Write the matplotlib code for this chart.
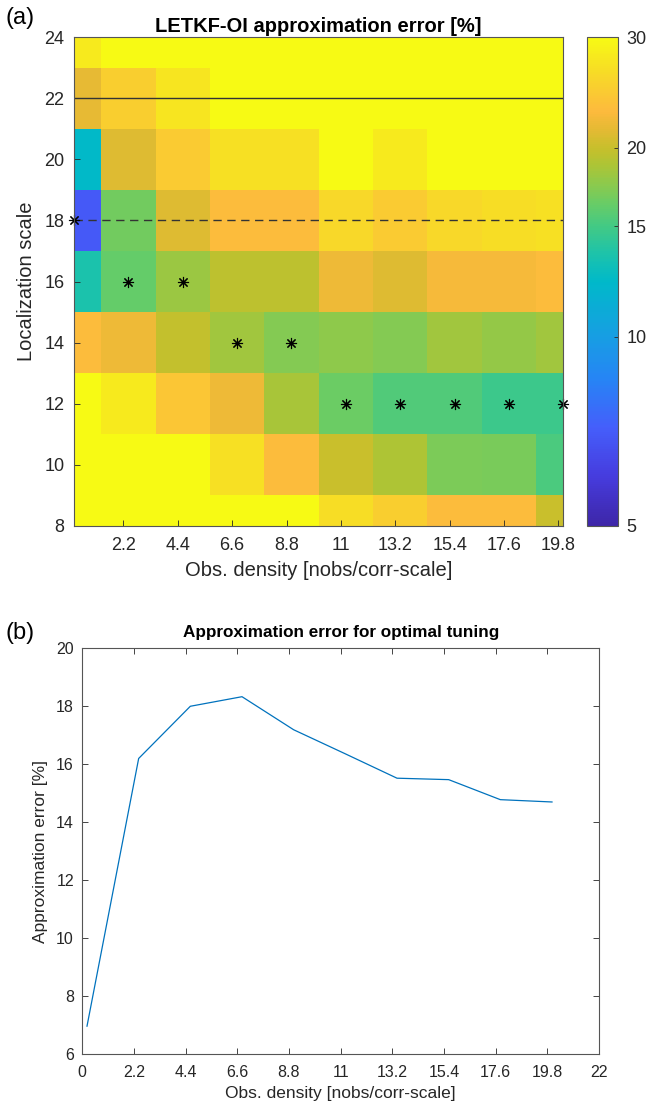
import numpy as np
import matplotlib.pyplot as plt
from matplotlib.colors import LinearSegmentedColormap, LogNorm

plt.rcParams['font.family'] = ['Liberation Sans', 'DejaVu Sans']

# observation density (column centres) and localization scales (row centres)
density = [0.2, 2.4, 4.6, 6.8, 9.0, 11.2, 13.4, 15.6, 17.8, 20.0]
scales = [8, 10, 12, 14, 16, 18, 20, 22, 24]

# approximation error [%], one row per localization scale (values > 30 are saturated)
err_8 = [32, 32, 32, 32, 31, 26.5, 25, 23, 23, 20]
err_10 = [32, 32, 32, 27, 23, 20, 18.8, 17, 16.8, 15.3]
err_12 = [32, 28, 24, 22, 18.6, 16.36, 15.52, 15.47, 14.78, 14.70]
err_14 = [23, 22, 19.8, 18.33, 17.19, 17.6, 17.2, 18.3, 17.8, 18.3]
err_16 = [13.5, 16.2, 18.0, 19.5, 19.5, 22, 21, 22.5, 22.5, 23]
err_18 = [6.97, 16.6, 21, 23, 23, 26, 24.5, 26, 26.5, 27]
err_20 = [12.3, 21, 24.5, 27, 27, 32, 28, 32, 32, 32]
err_22 = [21.5, 25, 27.5, 32, 32, 32, 32, 32, 32, 32]
err_24 = [28, 32, 32, 32, 32, 32, 32, 32, 32, 32]

# optimal tuning per density
opt_scale = [18, 16, 16, 14, 14, 12, 12, 12, 12, 12]
opt_err = [6.97, 16.2, 18.0, 18.33, 17.19, 16.36, 15.52, 15.47, 14.78, 14.70]

xticks_top = [2.2, 4.4, 6.6, 8.8, 11, 13.2, 15.4, 17.6, 19.8]
xticks_bot = [0, 2.2, 4.4, 6.6, 8.8, 11, 13.2, 15.4, 17.6, 19.8, 22]
cbar_ticks = [5, 10, 15, 20, 30]

# parula-like colormap
parula = LinearSegmentedColormap.from_list('parula', [
    (0.00, (0.242, 0.150, 0.660)),
    (0.10, (0.275, 0.235, 0.870)),
    (0.20, (0.270, 0.370, 0.985)),
    (0.30, (0.150, 0.520, 0.960)),
    (0.387, (0.090, 0.620, 0.890)),
    (0.50, (0.000, 0.725, 0.790)),
    (0.56, (0.120, 0.765, 0.660)),
    (0.613, (0.260, 0.790, 0.520)),
    (0.66, (0.410, 0.800, 0.400)),
    (0.70, (0.550, 0.790, 0.300)),
    (0.74, (0.680, 0.770, 0.210)),
    (0.774, (0.780, 0.750, 0.170)),
    (0.81, (0.890, 0.730, 0.200)),
    (0.85, (0.990, 0.730, 0.240)),
    (0.93, (0.970, 0.860, 0.150)),
    (1.00, (0.970, 0.980, 0.080)),
])

txt = '#262626'
err = np.array([err_8, err_10, err_12, err_14, err_16, err_18, err_20, err_22, err_24])
d = np.array(density)
s = np.array(scales)
x_edges = np.concatenate([d - np.diff(d).mean() / 2, [d[-1] + np.diff(d).mean() / 2]])
y_edges = np.concatenate([s - 1, [s[-1] + 1]])

fig = plt.figure(figsize=(6.46, 11.07), dpi=100)

# (a) heatmap
ax1 = fig.add_axes([0.1146, 0.5251, 0.7574, 0.4412])
mesh = ax1.pcolormesh(x_edges, y_edges, err, cmap=parula, norm=LogNorm(5, 30))
ax1.axhline(22, color='#333333', lw=1.0)
ax1.axhline(18, color='#333333', lw=1.0, ls=(0, (6, 4)))
ax1.plot(density, opt_scale, ls='none', marker=(8, 2, 0), ms=8, mew=0.8,
         color='k', clip_on=False)
ax1.set_xlim(density[0], density[-1])
ax1.set_ylim(scales[0], scales[-1])
ax1.set_xticks(xticks_top)
ax1.set_xticklabels([f'{t:g}' for t in xticks_top])
ax1.set_yticks(scales)
ax1.tick_params(direction='in', length=4, width=0.6, colors=txt, labelsize=13,
                pad=8, top=False, right=False)
ax1.tick_params(axis='y', pad=7)
ax1.set_xlabel('Obs. density [nobs/corr-scale]', fontsize=14.5, color=txt, labelpad=5)
ax1.set_ylabel('Localization scale', fontsize=14.5, color=txt, labelpad=6)
ax1.set_title('LETKF-OI approximation error [%]', fontsize=14.5, fontweight='bold', pad=4)
for sp in ax1.spines.values():
    sp.set_color('#555555')
    sp.set_linewidth(0.8)

cax = fig.add_axes([0.9091, 0.5251, 0.048, 0.4412])
cb = fig.colorbar(mesh, cax=cax)
cb.ax.minorticks_off()
cb.set_ticks(cbar_ticks)
cb.set_ticklabels([str(t) for t in cbar_ticks])
cb.ax.tick_params(direction='in', length=3, width=0.6, colors=txt, labelsize=13, pad=6)
cb.outline.set_edgecolor('#555555')
cb.outline.set_linewidth(0.8)

# (b) optimal error line
ax2 = fig.add_axes([0.1274, 0.0476, 0.7998, 0.3668])
ax2.plot(density, opt_err, color='#0072BD', lw=0.9)
ax2.set_xlim(0, 22)
ax2.set_ylim(6, 20)
ax2.set_xticks(xticks_bot)
ax2.set_xticklabels([f'{t:g}' for t in xticks_bot])
ax2.set_yticks(range(6, 21, 2))
ax2.tick_params(direction='in', length=4, width=0.6, colors=txt, labelsize=11.5,
                pad=6, top=True, right=True)
ax2.tick_params(axis='x', pad=8)
ax2.set_xlabel('Obs. density [nobs/corr-scale]', fontsize=12.5, color=txt, labelpad=4)
ax2.set_ylabel('Approximation error [%]', fontsize=12.5, color=txt, labelpad=6)
ax2.set_title('Approximation error for optimal tuning', fontsize=12.3, fontweight='bold', pad=8)
for sp in ax2.spines.values():
    sp.set_color('#555555')
    sp.set_linewidth(0.8)

fig.text(0.008, 1 - 18 / 1107, '(a)', fontsize=17, va='center', ha='left')
fig.text(0.008, 1 - 633 / 1107, '(b)', fontsize=17, va='center', ha='left')

fig.savefig('out.png', dpi=100)
